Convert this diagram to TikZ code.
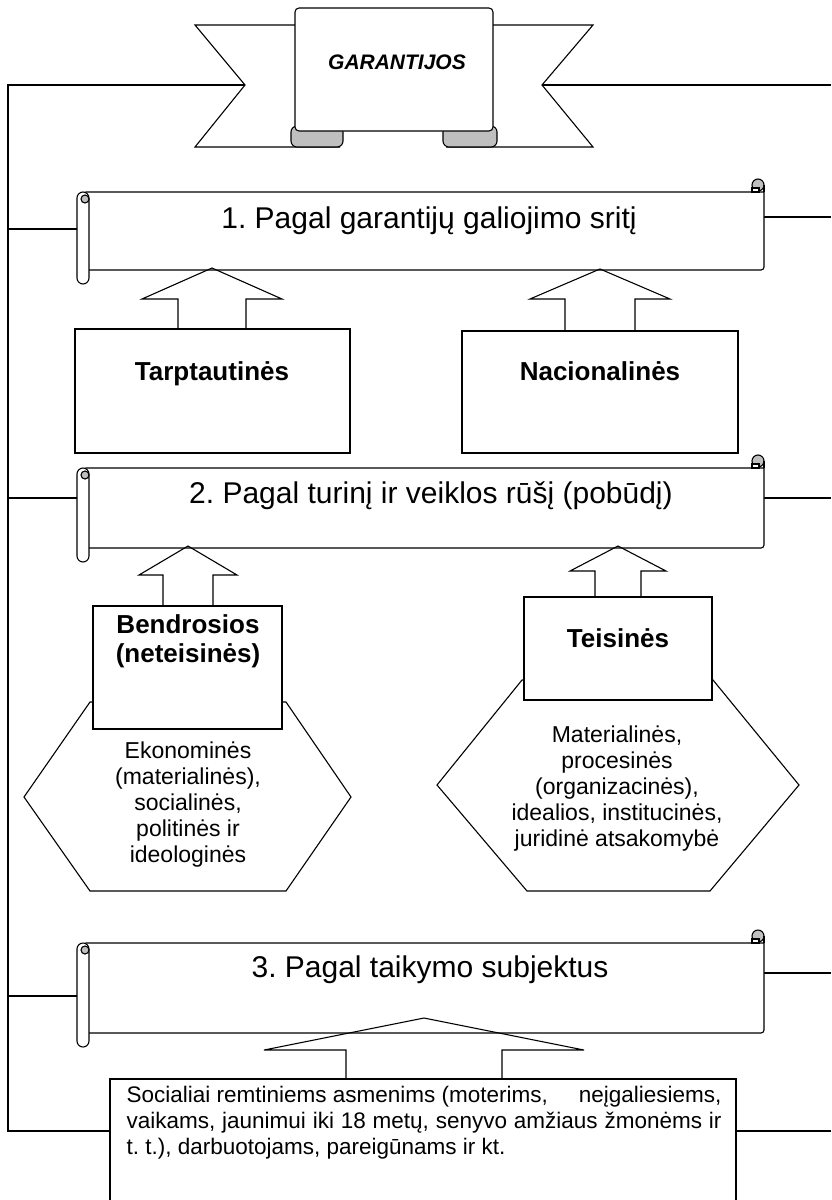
\documentclass[tikz,border=0pt]{standalone}
\usepackage{fontspec}
\setmainfont{Liberation Sans}
\frenchspacing

% scroll banner, #1 = top edge, #2 = bottom edge
\newcommand{\garscroll}[2]{%
\draw[fill=white] (83,#1) -- (764,#1) [rounded corners=3pt] -- (764,#2) -- (83,#2) -- cycle;
\draw[fill=black!25] (758,#1-7) circle[radius=6pt];
\draw[fill=white] (752,#1-4) rectangle (759,#1);
\draw (764,#1-7) -- (764,#1);
\draw[fill=white, rounded corners=6pt] (77,#1) rectangle (89,#2+14);
\draw[fill=black!25] (85,#1+7) circle[radius=4pt];
}
% block arrow up: #1 x, #2 tip, #3 head half, #4 stem half, #5 head base, #6 stem bottom
\newcommand{\garup}[6]{%
\draw (#1-#4,#6) -- (#1-#4,#5) -- (#1-#3,#5) -- (#1,#2) -- (#1+#3,#5) -- (#1+#4,#5) -- (#1+#4,#6);
}

\begin{document}
\begin{tikzpicture}[x=1pt, y=-1pt, line width=1.1pt, line join=miter,
  gbox/.style={draw, fill=white, inner sep=0pt},
  scrolltitle/.style={font=\fontsize{30}{36}\selectfont, anchor=base, inner sep=0pt},
  boldlbl/.style={font=\fontsize{26}{29}\selectfont\bfseries, align=center, inner sep=0pt},
  hexlbl/.style={font=\fontsize{23}{26}\selectfont, align=center, inner sep=0pt, anchor=north}]
\useasboundingbox (0,0) rectangle (831,1200);

% ribbon on top
\draw[fill=white] (295,25) -- (195,25) -- (245,85) -- (195,147) -- (340,147);
\draw[fill=white] (493,25) -- (593,25) -- (542,85) -- (593,147) -- (446,147);
\draw[fill=black!25, rounded corners=6pt] (291,126) rectangle (343,147);
\draw[fill=black!25, rounded corners=6pt] (443,126) rectangle (497,147);
\draw[fill=white, rounded corners=4pt] (295,131) -- (295,8) -- (493,8) -- (493,131) -- cycle;
\node[font=\fontsize{21}{25}\selectfont\bfseries\itshape, anchor=base, inner sep=0pt] (gar) at (397,69) {GARANTIJOS};

% spine on the left and lines to the right edge
\coordinate (banL) at (245,85);
\coordinate (banR) at (542,85);
\coordinate (spineT) at (8,85);
\coordinate (spineB) at (8,1131);
\coordinate (edgeR) at (831,85);
\draw (banL) -- (spineT) -- (spineB) -- (110,1131);
\draw (banR) -- (edgeR);
\draw (736,1131) -- (edgeR |- spineB);

\coordinate (s1L) at (77,229);
\coordinate (s1R) at (764,217);
\coordinate (s2L) at (77,498);
\coordinate (s2R) at (764,498);
\coordinate (s3L) at (77,996);
\coordinate (s3R) at (764,973);
\draw (s1L) -- (spineT |- s1L);
\draw (s2L) -- (spineT |- s2L);
\draw (s3L) -- (spineT |- s3L);
\draw (s1R) -- (edgeR |- s1R);
\draw (s2R) -- (edgeR |- s2R);
\draw (s3R) -- (edgeR |- s3R);

% the three scrolls
\garscroll{192}{270}
\node[scrolltitle] (sc1) at (429,228) {1. Pagal garantijų galiojimo sritį};
\garscroll{468}{548}
\node[scrolltitle] (sc2) at (431,503) {2. Pagal turinį ir veiklos rūšį (pobūdį)};
\garscroll{943}{1033}
\node[scrolltitle] (sc3) at (430,977) {3. Pagal taikymo subjektus};

% 1
\node[gbox, minimum width=275pt, minimum height=124pt] (tarp) at (212.5,391) {};
\node[boldlbl, anchor=base] (tarptxt) at (212,380) {Tarptautinės};
\node[gbox, minimum width=276pt, minimum height=122pt] (nac) at (600,392) {};
\node[boldlbl, anchor=base] (nactxt) at (600,380) {Nacionalinės};
\garup{212}{268}{70}{34}{299}{329}
\garup{600}{269}{70}{35}{299}{331}

% 2
\draw (90,702) -- (286,702) -- (351,797) -- (286,891) -- (90,891) -- (24,797) -- cycle;
\draw (522,680) -- (713,680) -- (799,785) -- (710,891) -- (527,891) -- (437,785) -- cycle;
\node[gbox, minimum width=189pt, minimum height=123pt] (bend) at (187.5,667.5) {};
\node[boldlbl, anchor=north] (bendtxt) at (188,614) {Bendrosios\\(neteisinės)};
\node[gbox, minimum width=188pt, minimum height=103pt] (teis) at (618,648.5) {};
\node[boldlbl, anchor=base] (teistxt) at (618,647) {Teisinės};
\garup{188}{546}{49}{25}{575}{606}
\garup{618}{546}{48}{23}{571}{597}
\node[hexlbl] (bendhex) at (188,741) {Ekonominės\\(materialinės),\\socialinės,\\politinės ir\\ideologinės};
\node[hexlbl] (teishex) at (617,725) {Materialinės,\\procesinės\\(organizacinės),\\idealios, institucinės,\\juridinė atsakomybė};

% 3
\node[gbox, minimum width=626pt, minimum height=136pt] (soc) at (423,1147) {};
\node[font=\fontsize{22.5}{26}\selectfont, text width=595pt, align=justify, inner sep=0pt, anchor=north west] (soctxt) at (126,1086)
  {Socialiai remtiniems asmenims (moterims,\hfill neįgaliesiems,\linebreak vaikams, jaunimui iki 18 metų, senyvo amžiaus žmonėms ir\linebreak t. t.), darbuotojams, pareigūnams ir kt.};
\garup{424}{1018}{160}{78}{1050}{1079}
\end{tikzpicture}
\end{document}
